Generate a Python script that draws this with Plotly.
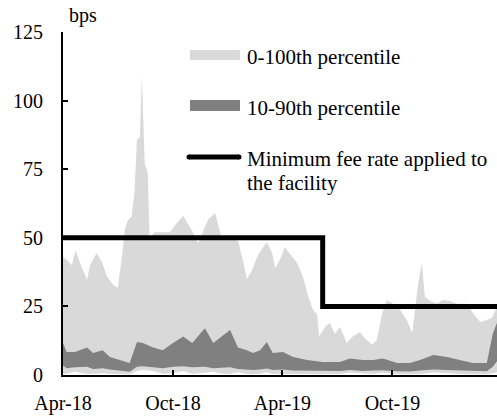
import plotly.graph_objects as go

# ---- data ----
max_dates = ["2018-04-01","2018-04-07","2018-04-16","2018-04-22","2018-04-29","2018-05-11","2018-05-16",
             "2018-05-27","2018-06-05","2018-06-13","2018-06-23","2018-07-01","2018-07-08","2018-07-13",
             "2018-07-18","2018-07-24","2018-07-29","2018-08-02","2018-08-07","2018-08-10","2018-08-15",
             "2018-08-20","2018-08-23","2018-09-01","2018-09-14","2018-09-26","2018-10-06","2018-10-18",
             "2018-10-26","2018-11-03","2018-11-12","2018-11-20","2018-11-28","2018-12-10","2018-12-21",
             "2019-01-04","2019-01-17","2019-01-25","2019-02-01","2019-02-09","2019-02-18","2019-02-26",
             "2019-03-06","2019-03-15","2019-03-20","2019-03-28","2019-04-05","2019-04-14","2019-04-25",
             "2019-05-05","2019-05-14","2019-05-22","2019-05-29","2019-06-01","2019-06-11","2019-06-19",
             "2019-06-27","2019-07-06","2019-07-17","2019-07-27","2019-08-08","2019-08-16","2019-08-28",
             "2019-09-05","2019-09-14","2019-09-22","2019-10-02","2019-10-14","2019-10-25","2019-11-03",
             "2019-11-08","2019-11-13","2019-11-19","2019-11-24","2019-12-03","2019-12-14","2019-12-24",
             "2020-01-05","2020-01-16","2020-02-02","2020-02-12","2020-02-24","2020-03-06","2020-03-15",
             "2020-03-23"]
max_vals = [43,42,40,45.5,41,34.6,40,
            44.5,41,36,33,31.7,43,53,
            56.5,57.6,67,85.6,86.7,109,77,
            73.6,50,52,52,52,55,58,
            55,52,48,52,56.5,59,50,
            50,49,42,35,38,43,46,
            48.5,44.5,39,42,46.6,44,41,
            36,28.5,23.7,22,14,17.5,19,
            15,17.5,11.7,14,15.7,13.5,11,
            12.8,22.6,27.3,26,23.7,20,15.3,
            23.7,33.5,41,28.5,27,26,27.3,
            27,26,26,22.6,19.3,20,21,
            25]

band_dates = ["2018-04-01","2018-04-07","2018-04-21","2018-05-11","2018-05-21","2018-06-06","2018-06-18",
              "2018-07-05","2018-07-21","2018-08-02","2018-08-12","2018-08-29","2018-09-14","2018-10-01",
              "2018-10-18","2018-11-02","2018-11-23","2018-12-07","2018-12-21","2019-01-04","2019-01-17",
              "2019-02-01","2019-02-11","2019-02-23","2019-03-06","2019-03-16","2019-04-02","2019-04-19",
              "2019-05-12","2019-06-07","2019-07-06","2019-07-22","2019-08-13","2019-08-30","2019-09-15",
              "2019-10-09","2019-10-30","2019-11-16","2019-12-08","2019-12-31","2020-01-21","2020-02-12",
              "2020-03-06","2020-03-16","2020-03-23"]
p90_vals = [11.7,8.4,8.4,10,8,9,6.6,
            5.5,4.4,12,11.7,10,9,11.7,
            14,11.7,17,11.7,14,16.4,10,
            9,8,9,12,8,8.4,6.6,
            5.5,4.7,4.7,6,5.5,5.5,6,
            4.4,4.4,5.5,7.3,6.6,5.5,4.4,
            4.4,15,19]
p10_vals = [3.5,2.5,2.8,3,2.2,2.5,2,
            1.5,1.2,3,3.2,2.8,2.5,3,
            3.2,2.8,3,2.5,2.6,2.8,2.2,
            2,1.8,2,2.4,1.8,2,1.6,
            1.5,1.4,1.5,1.8,1.5,1.6,1.7,
            1.4,1.3,1.6,2,1.8,1.6,1.4,
            1.4,3,5]
min_vals = [0.5,0.5,1.2,0.4,0.5,0.6,0.4,
            0.3,0.3,1.5,1.8,1.5,0.5,0.6,
            1.5,0.4,0.8,1.2,0.5,0.4,1,
            0.4,0.3,0.5,1,0.4,0.4,0.3,
            0.4,0.3,0.4,0.8,0.5,0.4,0.8,
            0.3,0.3,0.4,0.9,0.5,0.4,0.3,
            0.3,0.6,1]

fee_dates = ["2018-04-01","2019-06-07","2019-06-07","2020-03-23"]
fee_vals = [50,50,25,25]

tick_dates = ["2018-04-01","2018-10-01","2019-04-01","2019-10-01"]
tick_text = ["Apr-18","Oct-18","Apr-19","Oct-19"]
y_ticks = [0,25,50,75,100,125]

LIGHT = "#d9d9d9"
DARK = "#808080"
FONT = "Liberation Serif, Times New Roman, DejaVu Serif, serif"

fig = go.Figure()
fig.add_trace(go.Scatter(x=band_dates, y=min_vals, mode="lines", line=dict(width=0, color=LIGHT),
                         showlegend=False, hoverinfo="skip"))
fig.add_trace(go.Scatter(x=max_dates, y=max_vals, mode="lines", line=dict(width=0, color=LIGHT),
                         fill="tonexty", fillcolor=LIGHT, showlegend=False))
fig.add_trace(go.Scatter(x=band_dates, y=p10_vals, mode="lines", line=dict(width=0, color=DARK),
                         showlegend=False, hoverinfo="skip"))
fig.add_trace(go.Scatter(x=band_dates, y=p90_vals, mode="lines", line=dict(width=0, color=DARK),
                         fill="tonexty", fillcolor=DARK, showlegend=False))
fig.add_trace(go.Scatter(x=fee_dates, y=fee_vals, mode="lines", line=dict(width=5, color="black"),
                         showlegend=False))

W, H = 497, 419
L, R, T, B = 63, 0, 32, 44
pw, ph = W - L - R, H - T - B

def px(x):
    return (x - L) / pw

def py(y):
    return (H - B - y) / ph

shapes = [
    dict(type="rect", xref="paper", yref="paper", x0=px(190), x1=px(240), y0=py(60), y1=py(50),
         fillcolor=LIGHT, line=dict(width=0)),
    dict(type="rect", xref="paper", yref="paper", x0=px(190), x1=px(240), y0=py(111), y1=py(100),
         fillcolor=DARK, line=dict(width=0)),
    dict(type="line", xref="paper", yref="paper", x0=px(189), x1=px(239), y0=py(157), y1=py(157),
         line=dict(width=5, color="black")),
    dict(type="circle", xref="paper", yref="paper", x0=px(186.5), x1=px(191.5), y0=py(159.5), y1=py(154.5),
         fillcolor="black", line=dict(width=0)),
    dict(type="circle", xref="paper", yref="paper", x0=px(236.5), x1=px(241.5), y0=py(159.5), y1=py(154.5),
         fillcolor="black", line=dict(width=0)),
]

ann_font = dict(family=FONT, size=21, color="black")
annotations = [
    dict(xref="paper", yref="paper", x=px(245), y=py(57), text="0-100th percentile",
         showarrow=False, xanchor="left", yanchor="middle", font=ann_font),
    dict(xref="paper", yref="paper", x=px(245), y=py(108), text="10-90th percentile",
         showarrow=False, xanchor="left", yanchor="middle", font=ann_font),
    dict(xref="paper", yref="paper", x=px(245), y=py(159), text="Minimum fee rate applied to",
         showarrow=False, xanchor="left", yanchor="middle", font=ann_font),
    dict(xref="paper", yref="paper", x=px(245), y=py(183), text="the facility",
         showarrow=False, xanchor="left", yanchor="middle", font=ann_font),
    dict(xref="paper", yref="paper", x=px(67), y=py(16), text="bps",
         showarrow=False, xanchor="left", yanchor="middle", font=dict(family=FONT, size=20, color="black")),
]

fig.update_layout(
    width=W, height=H,
    margin=dict(l=L, r=R, t=T, b=B, pad=0),
    paper_bgcolor="white", plot_bgcolor="white",
    font=dict(family=FONT, size=20, color="black"),
    shapes=shapes, annotations=annotations,
    showlegend=False,
    xaxis=dict(range=["2018-04-01", "2020-03-23"], tickmode="array", tickvals=tick_dates,
               ticktext=tick_text, ticks="inside", ticklen=5, tickwidth=1.5, tickcolor="black",
               showline=True, linecolor="black", linewidth=2, showgrid=False, zeroline=False,
               ticklabelstandoff=9),
    yaxis=dict(range=[0, 125], tickmode="array", tickvals=y_ticks, ticks="inside", ticklen=5,
               tickwidth=1.5, tickcolor="black", showline=True, linecolor="black", linewidth=2,
               showgrid=False, zeroline=False, ticklabelstandoff=14),
)

fig.write_html("out.html", config={"displayModeBar": False},
               post_script="document.body.style.margin='0';document.body.style.overflow='hidden';")
